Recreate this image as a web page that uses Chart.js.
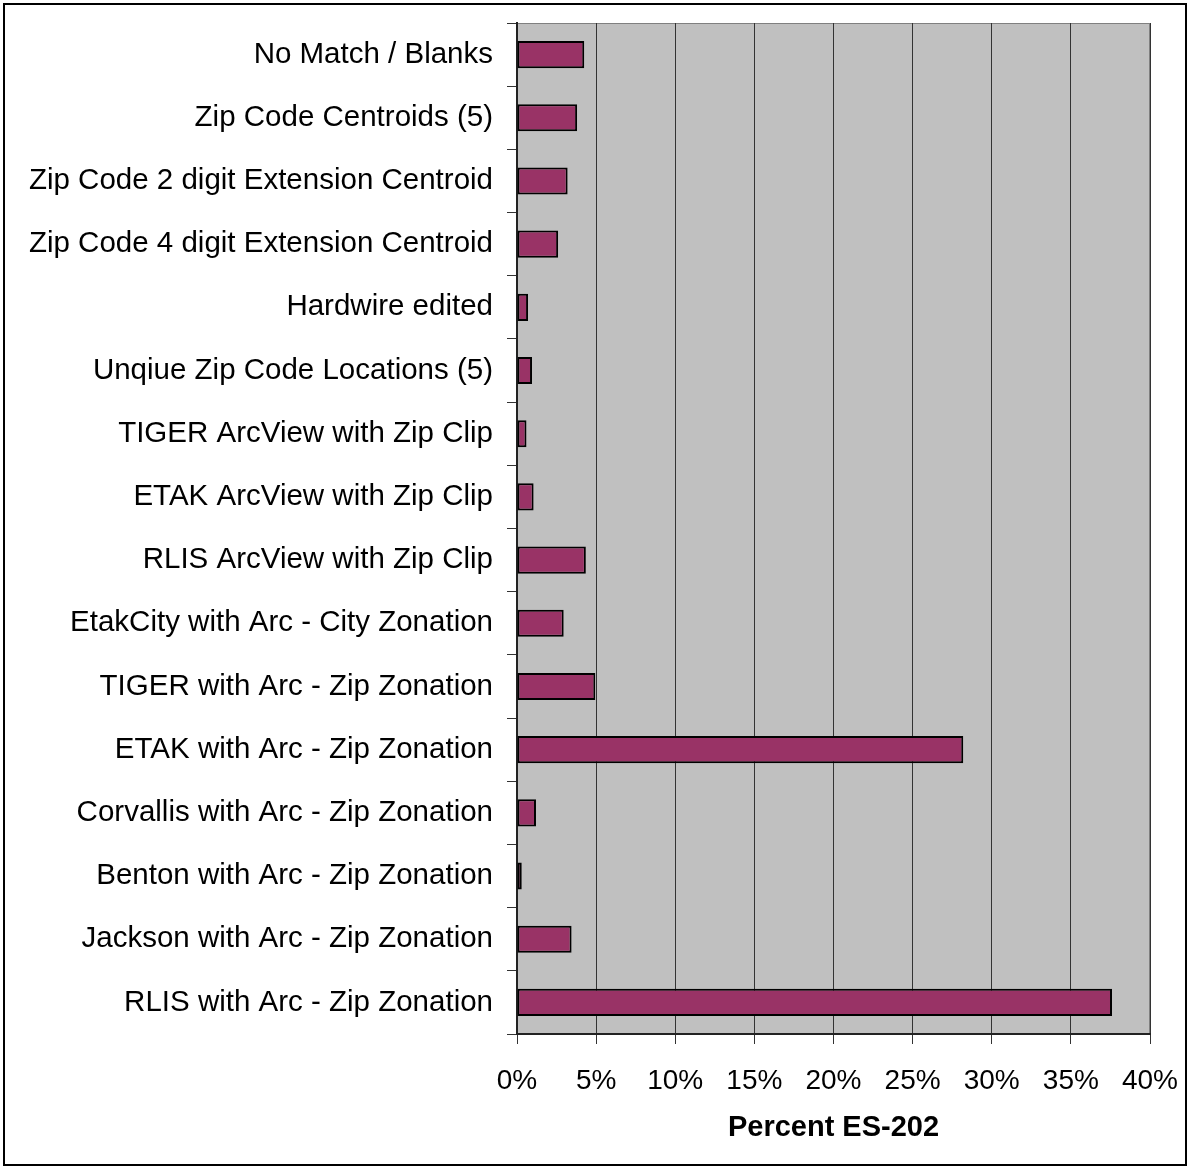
<!DOCTYPE html>
<html>
<head>
<meta charset="utf-8">
<script src="https://cdn.jsdelivr.net/npm/chart.js@4/dist/chart.umd.min.js"></script>
<style>
  body { margin: 0; background: #fff; }
</style>
</head>
<body>
<canvas id="myChart" width="1190" height="1169"></canvas>
<script>
const categories = [
  'No Match / Blanks',
  'Zip Code Centroids (5)',
  'Zip Code 2 digit Extension Centroid',
  'Zip Code 4 digit Extension Centroid',
  'Hardwire edited',
  'Unqiue Zip Code Locations (5)',
  'TIGER ArcView with Zip Clip',
  'ETAK ArcView with Zip Clip',
  'RLIS ArcView with Zip Clip',
  'EtakCity with Arc - City Zonation',
  'TIGER with Arc - Zip Zonation',
  'ETAK with Arc - Zip Zonation',
  'Corvallis with Arc - Zip Zonation',
  'Benton with Arc - Zip Zonation',
  'Jackson with Arc - Zip Zonation',
  'RLIS with Arc - Zip Zonation'
];
const percentES202 = [4.25, 3.8, 3.2, 2.6, 0.7, 0.95, 0.6, 1.05, 4.35, 2.95, 4.95, 28.2, 1.2, 0.3, 3.45, 37.6];
const xTickMin = 0;
const xTickMax = 40;
const xTickStep = 5;

const ctx = document.getElementById('myChart');

// gray plot background and the outer frame
const frame = {
  id: 'frame',
  beforeDraw(chart) {
    const c = chart.ctx, a = chart.chartArea;
    c.save();
    c.fillStyle = '#ffffff';
    c.fillRect(0, 0, chart.width, chart.height);
    c.fillStyle = '#c0c0c0';
    c.fillRect(a.left, a.top, a.right - a.left, a.bottom - a.top);
    c.strokeStyle = '#808080';
    c.lineWidth = 1;
    c.strokeRect(a.left + 0.5, a.top + 0.5, a.right - a.left - 1, a.bottom - a.top);
    c.restore();
  },
  afterDraw(chart) {
    const c = chart.ctx;
    c.save();
    c.strokeStyle = '#000';
    c.lineWidth = 2;
    c.strokeRect(4, 4, chart.width - 8, chart.height - 8);
    c.restore();
  }
};

new Chart(ctx, {
  type: 'bar',
  data: {
    labels: categories,
    datasets: [{
      label: 'Percent ES-202',
      data: percentES202,
      backgroundColor: '#993366',
      borderColor: '#000000',
      borderWidth: 2,
      borderSkipped: false,
      barPercentage: 0.43,
      categoryPercentage: 1
    }]
  },
  options: {
    responsive: false,
    animation: false,
    devicePixelRatio: 1,
    indexAxis: 'y',
    layout: { padding: { top: 23, left: 10, right: 40, bottom: 24 } },
    plugins: {
      legend: { display: false },
      tooltip: { enabled: false }
    },
    scales: {
      x: {
        min: xTickMin,
        max: xTickMax,
        ticks: {
          stepSize: xTickStep,
          color: '#000',
          padding: 20,
          font: { family: "'Liberation Sans', Arial, sans-serif", size: 28 },
          callback: v => v + '%'
        },
        grid: { color: '#333', lineWidth: 1, tickLength: 10, drawTicks: true },
        border: { color: '#222', width: 2 },
        title: {
          display: true,
          text: 'Percent ES-202',
          color: '#000',
          padding: { top: 4, bottom: 0 },
          font: { family: "'Liberation Sans', Arial, sans-serif", size: 29, weight: 'bold' }
        },
        afterFit(scale) {
          scale.height = 1169 - 24 - 1034;
          // the 40% label fits inside the right padding
          scale.paddingRight = 0;
        }
      },
      y: {
        ticks: {
          color: '#000',
          padding: 14,
          autoSkip: false,
          font: { family: "'Liberation Sans', Arial, sans-serif", size: 29.5 }
        },
        grid: { drawOnChartArea: false, color: '#333', tickLength: 10, offset: true },
        border: { color: '#222', width: 2 },
        afterFit(scale) {
          scale.width = 517 - 10;
          scale.paddingTop = 0;
          scale.paddingBottom = 0;
        }
      }
    }
  },
  plugins: [frame]
});
</script>
</body>
</html>
